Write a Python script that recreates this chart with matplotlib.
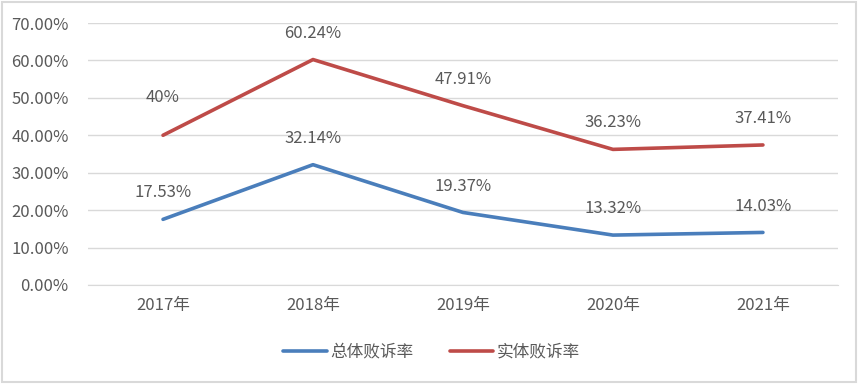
import matplotlib.pyplot as plt
from matplotlib.patches import Rectangle

plt.rcParams['font.family'] = ['Noto Sans CJK SC', 'DejaVu Sans']

# 数据
years = ['2017年', '2018年', '2019年', '2020年', '2021年']
total_rate = [17.53, 32.14, 19.37, 13.32, 14.03]
entity_rate = [40.0, 60.24, 47.91, 36.23, 37.41]
total_labels = ['17.53%', '32.14%', '19.37%', '13.32%', '14.03%']
entity_labels = ['40%', '60.24%', '47.91%', '36.23%', '37.41%']

fig = plt.figure(figsize=(8.58, 3.84), dpi=100)
ax = fig.add_axes([0.1026, 0.258, 0.874, 0.682])

x = range(len(years))
ax.plot(x, total_rate, color='#4A7EBB', lw=2.6, label='总体败诉率', solid_capstyle='round')
ax.plot(x, entity_rate, color='#BE4B48', lw=2.6, label='实体败诉率', solid_capstyle='round')

txt = '#595959'
for i in x:
    ax.annotate(total_labels[i], (i, total_rate[i]), xytext=(0, 19), textcoords='offset points',
                ha='center', va='center', fontsize=12, color=txt)
    # 2017年的标签在原图中位置偏高
    dy = 27 if i == 0 else 19
    ax.annotate(entity_labels[i], (i, entity_rate[i]), xytext=(0, dy), textcoords='offset points',
                ha='center', va='center', fontsize=12, color=txt)

ax.set_xlim(-0.5, 4.5)
ax.set_ylim(0, 70)
ax.set_yticks(range(0, 71, 10))
ax.set_yticklabels(['%.2f%%' % v for v in range(0, 71, 10)])
ax.set_xticks(list(x))
ax.set_xticklabels(years)
ax.tick_params(axis='both', length=0, labelsize=12, colors=txt)
ax.tick_params(axis='y', pad=14)
ax.tick_params(axis='x', pad=9)
ax.grid(axis='y', color='#D9D9D9', lw=1)
ax.set_axisbelow(True)
for s in ['top', 'right', 'left']:
    ax.spines[s].set_visible(False)
ax.spines['bottom'].set_color('#D9D9D9')

leg = fig.legend(loc='center', bbox_to_anchor=(0.503, 0.083), ncol=2, frameon=False,
                 fontsize=12, handlelength=2.6, columnspacing=2.2, handletextpad=0.2)
for t in leg.get_texts():
    t.set_color(txt)

fig.patches.append(Rectangle((0.002, 0.004), 0.996, 0.992, transform=fig.transFigure,
                             fill=False, edgecolor='#D9D9D9', lw=1.5))

fig.savefig('out.png', dpi=100)
